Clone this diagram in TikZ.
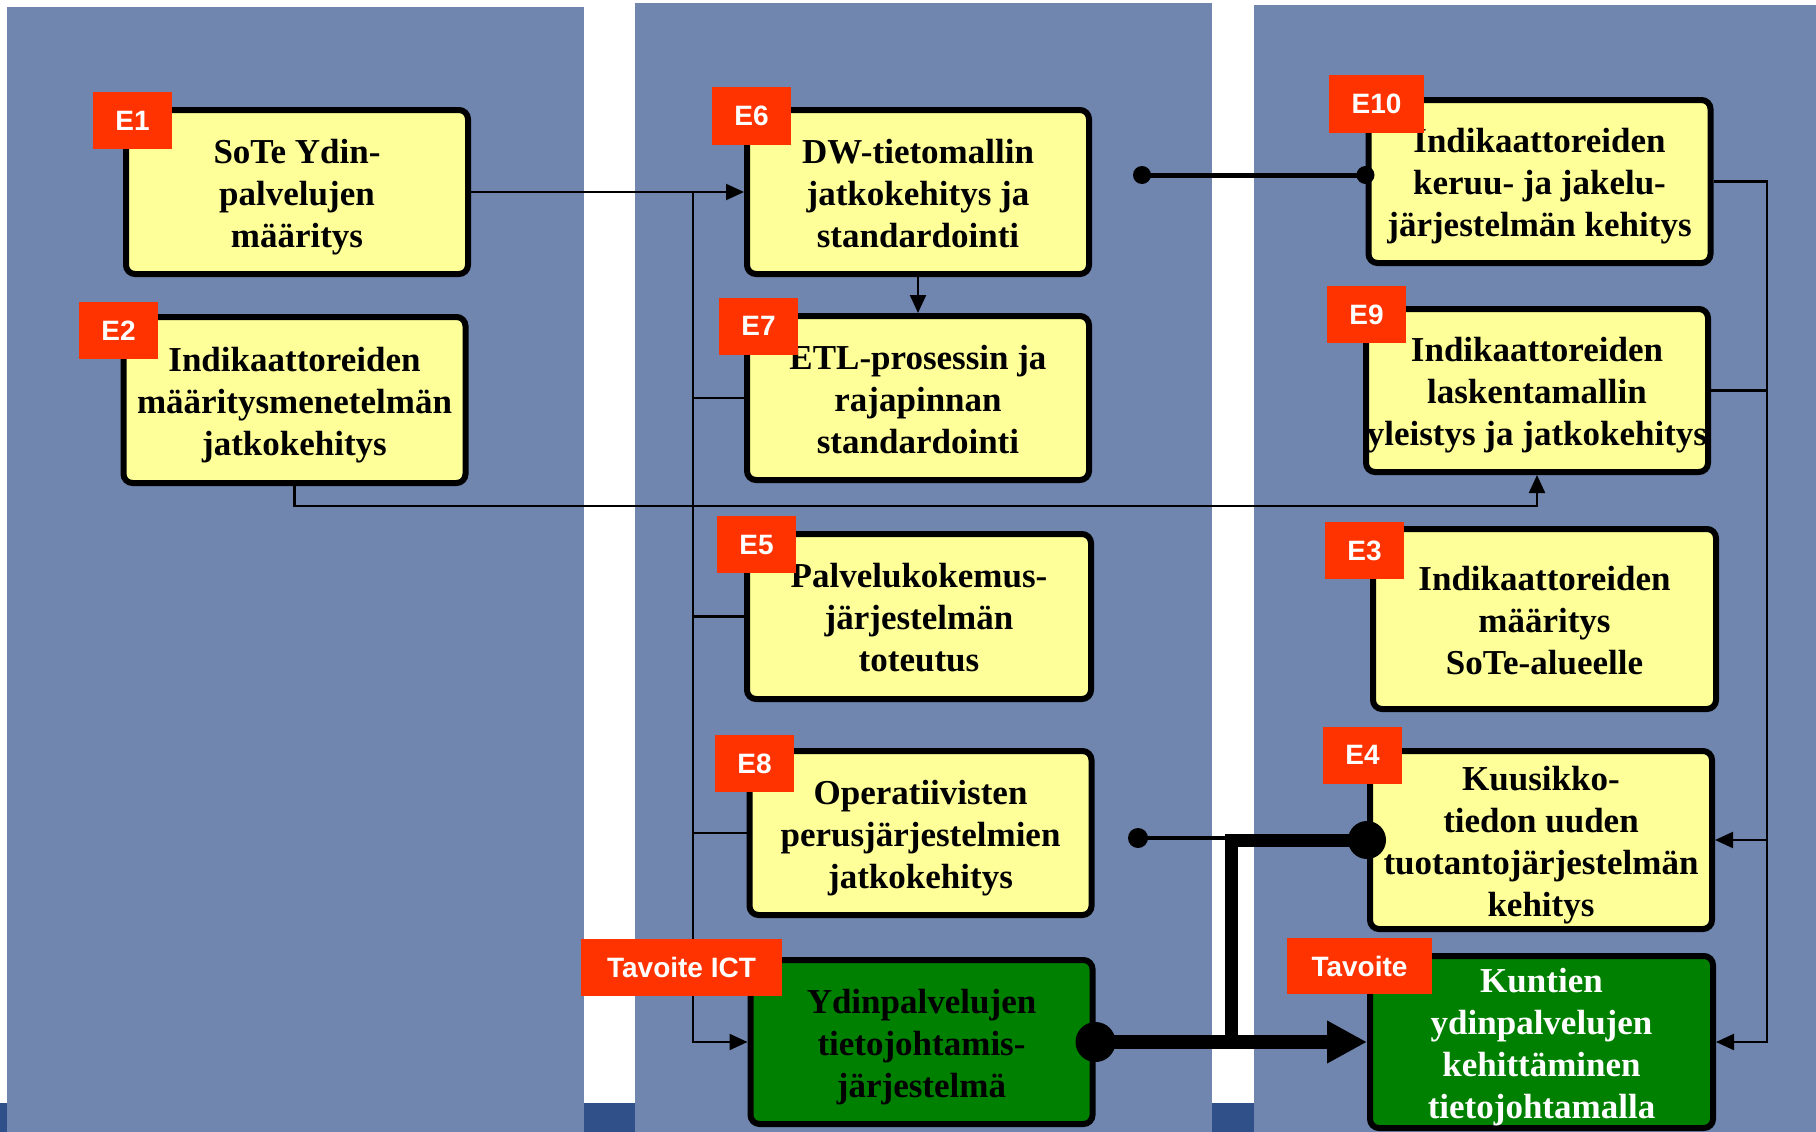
\documentclass[tikz,border=0pt]{standalone}
\usepackage{fontspec}
\setmainfont{Liberation Serif}
\newfontfamily\lblfont{Liberation Sans}
\usetikzlibrary{arrows.meta}
\definecolor{panel}{RGB}{112,134,174}
\definecolor{band}{RGB}{47,80,137}
\definecolor{boxyellow}{RGB}{255,255,153}
\definecolor{boxgreen}{RGB}{0,128,0}
\definecolor{lblred}{RGB}{255,51,0}
\newcommand\boxtopstrut{\rule{0pt}{35.3pt}}
\newcommand\boxbotstrut{\rule[-9pt]{0pt}{9pt}}
\begin{document}
\begin{tikzpicture}[x=1pt,y=-1pt,
  box/.style={draw=black, line width=6pt, rounded corners=9pt, fill=boxyellow, align=center,
    inner sep=0pt, minimum width=342pt, minimum height=164pt,
    font=\fontsize{35pt}{42pt}\selectfont\bfseries},
  goal/.style={box, fill=boxgreen},
  lbl/.style={fill=lblred, text=white, inner sep=0pt, minimum height=57pt, minimum width=79pt,
    font=\lblfont\fontsize{28pt}{28pt}\selectfont\bfseries},
  conn/.style={line width=2.2pt},
  arr/.style={conn, -{Triangle[length=18pt,width=16pt]}},
  dotline/.style={line width=5pt},
  thickline/.style={line width=13pt},
]
\useasboundingbox (0,0) rectangle (1816,1132);
\fill[white] (0,0) rectangle (1816,1132);
\fill[band] (0,1103) rectangle (1816,1132);
\fill[panel] (7,7) rectangle (584,1132);
\fill[panel] (635,3) rectangle (1212,1132);
\fill[panel] (1254,5) rectangle (1816,1132);

% boxes
\node[box] (E1) at (297,192) {\boxtopstrut SoTe Ydin-\\palvelujen\\määritys\boxbotstrut};
\node[box, minimum height=166pt] (E2) at (294.5,400) {\boxtopstrut Indikaattoreiden\\määritysmenetelmän\\jatkokehitys\boxbotstrut};
\node[box] (E6) at (918,192) {\boxtopstrut DW-tietomallin\\jatkokehitys ja\\standardointi\boxbotstrut};
\node[box] (E7) at (918,398) {\boxtopstrut ETL-prosessin ja\\rajapinnan\\standardointi\boxbotstrut};
\node[box, minimum width=344pt, minimum height=165pt] (E5) at (919,616.5) {\boxtopstrut Palvelukokemus-\\järjestelmän\\toteutus\boxbotstrut};
\node[box] (E8) at (920.5,833) {\boxtopstrut Operatiivisten\\perusjärjestelmien\\jatkokehitys\boxbotstrut};
\node[goal] (ICT) at (921.5,1042) {\boxtopstrut Ydinpalvelujen\\tietojohtamis-\\järjestelmä\boxbotstrut};
\node[box, minimum height=163pt] (E10) at (1539.5,181.5) {\boxtopstrut Indikaattoreiden\\keruu- ja jakelu-\\järjestelmän kehitys\boxbotstrut};
\node[box, minimum height=163pt] (E9) at (1537,390.5) {\boxtopstrut Indikaattoreiden\\laskentamallin\\yleistys ja jatkokehitys\boxbotstrut};
\node[box, minimum width=343pt, minimum height=180pt] (E3) at (1544.5,619) {\boxtopstrut Indikaattoreiden\\määritys\\SoTe-alueelle\boxbotstrut};
\node[box, minimum height=178pt] (E4) at (1541,840) {\boxtopstrut Kuusikko-\\tiedon uuden\\tuotantojärjestelmän\\kehitys\boxbotstrut};
\node[goal, text=white, minimum width=343pt, minimum height=172pt] (TAV) at (1541.5,1042) {\boxtopstrut Kuntien\\ydinpalvelujen\\kehittäminen\\tietojohtamalla\boxbotstrut};

% thin connectors
\coordinate (bus) at (693,192);
\draw[arr] (E1.east) -- (E6.west);
\draw[arr] (bus) |- (ICT.west);
\draw[conn] (bus |- E7.west) -- (E7.west);
\draw[conn] (bus |- E5.west) -- (E5.west);
\draw[conn] (bus |- E8.west) -- (E8.west);
\draw[arr] (E6.south) -- (E7.north);
\draw[arr] (E2.south) -- ++(0,20) -| (E9.south);
\coordinate (rx) at (1767,182);
\draw[arr] (E10.east) -| (rx |- TAV.east) -- (TAV.east);
\draw[conn] (E9.east) -- (E9.east -| rx);
\draw[arr] (E4.east -| rx) -- (E4.east);

% thick connectors
\coordinate (d1) at (1142,175);
\coordinate (d1e) at (E10.west |- d1);
\draw[dotline] (d1) -- (d1e);
\fill (d1) circle[radius=9];
\fill (d1e) circle[radius=9];
\coordinate (d2) at (1138,838);
\coordinate (j) at (1231,840);
\draw[line width=4pt] (d2) -- (j |- d2);
\fill (d2) circle[radius=10];
\draw[thickline] (E4.west) -- (j) -- (j |- ICT.east);
\draw[line width=14pt, -{Triangle[length=40pt,width=40pt]}] (ICT.east) -- (TAV.west);
\fill (E4.west) circle[radius=19];
\fill (ICT.east) circle[radius=20];

% labels
\node[lbl] (L1) at (132.5,120.5) {E1};
\node[lbl] (L2) at (118.5,330.5) {E2};
\node[lbl] (L6) at (751.5,116) {E6};
\node[lbl] (L7) at (758.5,326) {E7};
\node[lbl] (L5) at (756.5,544.5) {E5};
\node[lbl] (L8) at (754.5,763.5) {E8};
\node[lbl, minimum width=201pt] (LICT) at (681.5,967.5) {Tavoite ICT};
\node[lbl, minimum width=95pt] (L10) at (1376.5,104) {E10};
\node[lbl] (L9) at (1366.5,314.5) {E9};
\node[lbl] (L3) at (1364.5,550.5) {E3};
\node[lbl] (L4) at (1362.5,755) {E4};
\node[lbl, minimum width=145pt, minimum height=56pt] (LTAV) at (1359.5,966) {Tavoite};
\end{tikzpicture}
\end{document}
